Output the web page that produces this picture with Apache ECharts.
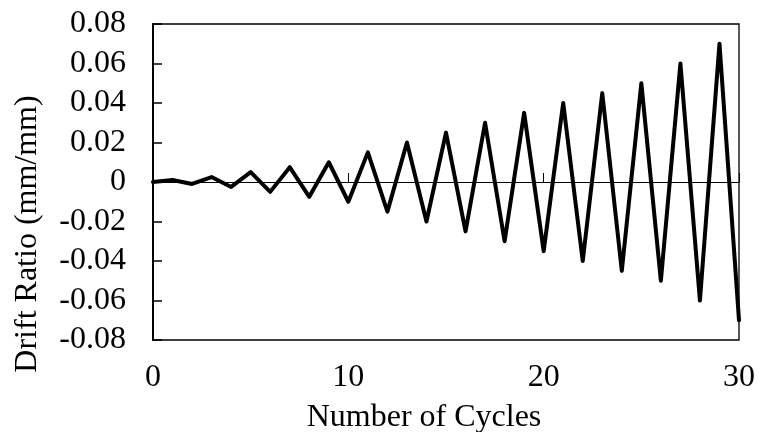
<!DOCTYPE html>
<html>
<head>
<meta charset="utf-8">
<script src="https://cdn.jsdelivr.net/npm/echarts@6/dist/echarts.min.js"></script>
<style>
  html, body { margin: 0; padding: 0; background: #fff; }
  #chart { width: 758px; height: 432px; }
</style>
</head>
<body>
<div id="chart"></div>
<script>
// Loading protocol: drift ratio at each cycle peak
const cycles = [0, 1, 2, 3, 4, 5, 6, 7, 8, 9, 10, 11, 12, 13, 14, 15, 16, 17, 18, 19, 20, 21, 22, 23, 24, 25, 26, 27, 28, 29, 30];
const driftRatio = [0, 0.001, -0.001, 0.0025, -0.0025, 0.005, -0.005, 0.0075, -0.0075, 0.01, -0.01,
  0.015, -0.015, 0.02, -0.02, 0.025, -0.025, 0.03, -0.03, 0.035, -0.035,
  0.04, -0.04, 0.045, -0.045, 0.05, -0.05, 0.06, -0.06, 0.07, -0.07];
const xTickLabels = ['0', '10', '20', '30'];
const yTickLabels = ['-0.08', '-0.06', '-0.04', '-0.02', '0', '0.02', '0.04', '0.06', '0.08'];
const xTitle = 'Number of Cycles';
const yTitle = 'Drift Ratio (mm/mm)';

const FONT = '"Liberation Serif", "Times New Roman", serif';
const FS = 32;

const chart = echarts.init(document.getElementById('chart'), null, { renderer: 'canvas' });

const yLabel = v => {
  const i = Math.round((v + 0.08) / 0.02);
  return yTickLabels[i] !== undefined ? yTickLabels[i] : '';
};
const xLabel = v => {
  const i = Math.round(v / 10);
  return xTickLabels[i] !== undefined ? xTickLabels[i] : '';
};

chart.setOption({
  animation: false,
  backgroundColor: '#ffffff',
  grid: {
    left: 153, top: 24, width: 586, height: 316,
    show: true, borderColor: '#000', borderWidth: 1.3, backgroundColor: 'transparent'
  },
  xAxis: [
    {
      // bottom axis: tick labels only
      type: 'value', min: 0, max: 30, interval: 10, position: 'bottom',
      axisLine: { show: false, onZero: false },
      axisTick: { show: false },
      splitLine: { show: false },
      axisLabel: { formatter: xLabel, color: '#000', fontFamily: FONT, fontSize: FS, margin: 22 }
    },
    {
      // axis line drawn through zero drift with inward ticks
      type: 'value', min: 0, max: 30, interval: 10, position: 'bottom',
      axisLine: { show: true, onZero: true, lineStyle: { color: '#000', width: 1 } },
      axisTick: { show: true, inside: true, length: 9, lineStyle: { color: '#000', width: 1 } },
      axisLabel: { show: false },
      splitLine: { show: false }
    }
  ],
  yAxis: {
    type: 'value', min: -0.08, max: 0.08, interval: 0.02,
    axisLine: { show: true, onZero: false, lineStyle: { color: '#000', width: 2 } },
    axisTick: { show: true, inside: true, length: 9, lineStyle: { color: '#000', width: 1.5 } },
    splitLine: { show: false },
    axisLabel: { formatter: yLabel, color: '#000', fontFamily: FONT, fontSize: FS, margin: 27 }
  },
  graphic: [
    {
      type: 'text', x: 424, y: 418,
      style: { text: xTitle, font: FS + 'px ' + FONT, fill: '#000', textAlign: 'center', textVerticalAlign: 'middle' }
    },
    {
      type: 'text', x: 28, y: 234, rotation: Math.PI / 2,
      style: { text: yTitle, font: FS + 'px ' + FONT, fill: '#000', textAlign: 'center', textVerticalAlign: 'middle' }
    }
  ],
  series: [{
    type: 'line',
    xAxisIndex: 0,
    data: cycles.map((c, i) => [c, driftRatio[i]]),
    showSymbol: false,
    symbol: 'none',
    lineStyle: { color: '#000', width: 4, join: 'round', cap: 'round' },
    z: 3
  }]
});
</script>
</body>
</html>
